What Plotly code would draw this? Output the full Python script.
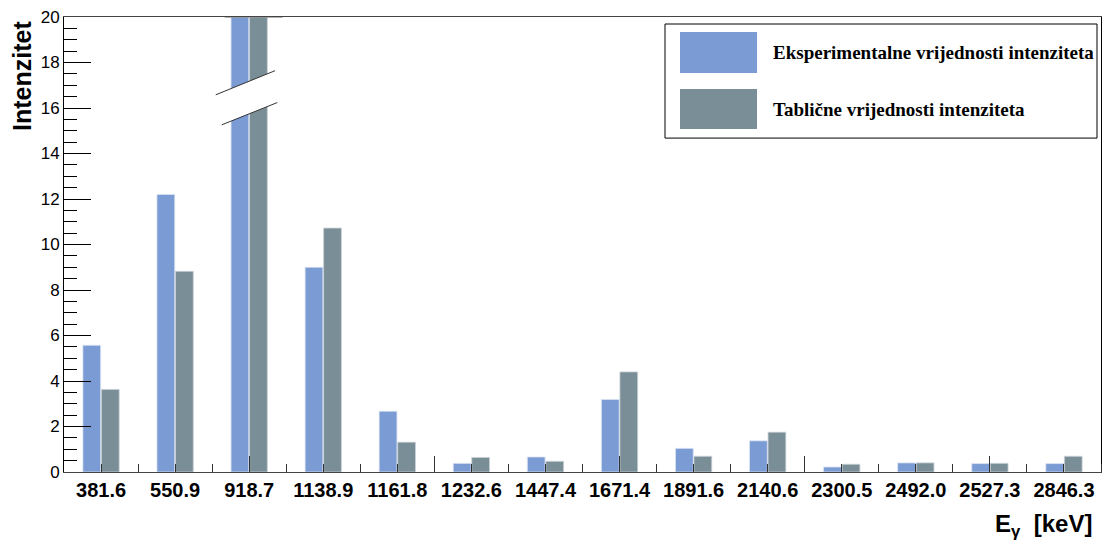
import plotly.graph_objects as go

categories = ["381.6", "550.9", "918.7", "1138.9", "1161.8", "1232.6", "1447.4",
              "1671.4", "1891.6", "2140.6", "2300.5", "2492.0", "2527.3", "2846.3"]
exp_values = [5.57, 12.2, 26.0, 9.0, 2.67, 0.38, 0.66, 3.19, 1.04, 1.37, 0.22, 0.40, 0.37, 0.37]
tab_values = [3.63, 8.82, 25.8, 10.72, 1.31, 0.64, 0.47, 4.40, 0.69, 1.75, 0.34, 0.40, 0.38, 0.69]
series_names = ["Eksperimentalne vrijednosti intenziteta", "Tablične vrijednosti intenziteta"]
colors = ["#7b9bd4", "#7a8e98"]

x_idx = list(range(len(categories)))

W, H = 1104, 543
L, R, T, B = 64, 1101, 17, 471.7
pw, ph = R - L, B - T

def px(x):
    return (x - L) / pw

def py(y):
    return (B - y) / ph

fig = go.Figure()
fig.add_trace(go.Bar(x=x_idx, y=exp_values, name=series_names[0],
                     marker=dict(color=colors[0], line=dict(color="#dbe3f3", width=0.8)),
                     showlegend=False))
fig.add_trace(go.Bar(x=x_idx, y=tab_values, name=series_names[1],
                     marker=dict(color=colors[1], line=dict(color="#c9d2d6", width=0.8)),
                     showlegend=False))

shapes = []
# axis break on the 918.7 bars
bi = categories.index("918.7")
shapes.append(dict(type="path", xref="x", yref="y",
                   path=f"M {bi-0.451},16.58 L {bi+0.349},17.64 L {bi+0.38},16.24 L {bi-0.37},15.26 Z",
                   fillcolor="white", line=dict(width=0)))
shapes.append(dict(type="line", xref="x", yref="y", x0=bi-0.451, y0=16.58, x1=bi+0.349, y1=17.64,
                   line=dict(color="#333", width=1)))
shapes.append(dict(type="line", xref="x", yref="y", x0=bi-0.37, y0=15.26, x1=bi+0.38, y1=16.24,
                   line=dict(color="#333", width=1)))
shapes.append(dict(type="line", xref="x", yref="y", x0=bi-0.33, y0=20, x1=bi+0.45, y1=20,
                   line=dict(color="#999", width=1.5)))

# legend box
shapes.append(dict(type="rect", xref="paper", yref="paper",
                   x0=px(665), x1=px(1097), y0=py(138), y1=py(24),
                   line=dict(color="black", width=1), fillcolor="white"))
shapes.append(dict(type="rect", xref="paper", yref="paper",
                   x0=px(680), x1=px(757), y0=py(73), y1=py(32),
                   line=dict(width=0), fillcolor=colors[0]))
shapes.append(dict(type="rect", xref="paper", yref="paper",
                   x0=px(680), x1=px(757), y0=py(129), y1=py(89),
                   line=dict(width=0), fillcolor=colors[1]))

annotations = [
    dict(text=series_names[0], xref="paper", yref="paper", x=px(771), y=py(52),
         xanchor="left", yanchor="middle", showarrow=False,
         font=dict(family="Liberation Serif", size=19, color="black", weight="bold")),
    dict(text=series_names[1], xref="paper", yref="paper", x=px(771), y=py(109),
         xanchor="left", yanchor="middle", showarrow=False,
         font=dict(family="Liberation Serif", size=19, color="black", weight="bold")),
    dict(text="Intenzitet", xref="paper", yref="paper", x=px(22), y=py(19),
         xanchor="center", yanchor="top", textangle=-90, showarrow=False,
         font=dict(family="Liberation Sans", size=25, color="black", weight="bold")),
    dict(text="E<sub>γ</sub>  [keV]", xref="paper", yref="paper", x=px(1094), y=py(525),
         xanchor="right", yanchor="middle", showarrow=False,
         font=dict(family="Liberation Sans", size=24, color="black", weight="bold")),
]

fig.update_layout(
    width=W, height=H,
    margin=dict(l=L, r=W - R, t=T, b=H - B),
    paper_bgcolor="white", plot_bgcolor="white",
    barmode="group", bargap=0.5, bargroupgap=0.04,
    shapes=shapes, annotations=annotations,
    font=dict(family="Liberation Sans", color="black"),
)

major_x = [2 + 2.5 * k for k in range(5)]
minor_x = [i * 0.5 for i in range(0, 28) if (i * 0.5) not in major_x]

fig.update_xaxes(
    range=[-0.5, len(categories) - 0.5],
    tickmode="array", tickvals=x_idx, ticktext=categories,
    ticks="", showgrid=False, zeroline=False,
    showline=True, linecolor="#444", linewidth=1, mirror=True,
    tickfont=dict(family="Liberation Sans", size=20, color="black", weight="bold"),
    minor=dict(tickmode="array", tickvals=minor_x, ticks="inside", ticklen=8,
               tickcolor="#333", tickwidth=1, showgrid=False),
)
fig.update_layout(xaxis2=dict(overlaying="x", range=[-0.5, len(categories) - 0.5],
                              tickmode="array", tickvals=major_x, ticks="inside", ticklen=16,
                              tickcolor="#333", showticklabels=False, showgrid=False,
                              zeroline=False, side="bottom", anchor="y"))
fig.add_trace(go.Scatter(x=[None], y=[None], xaxis="x2", showlegend=False, hoverinfo="skip"))

fig.update_yaxes(
    range=[0, 20], tickmode="linear", tick0=0, dtick=2,
    ticks="inside", ticklen=27, tickcolor="black", tickwidth=1,
    showgrid=False, zeroline=False,
    showline=True, linecolor="black", linewidth=1, mirror=True,
    tickfont=dict(family="Liberation Sans", size=17, color="black"),
    minor=dict(dtick=0.5, tick0=0, ticks="inside", ticklen=13, tickcolor="black", showgrid=False),
)

fig.write_html("out.html", config={"displayModeBar": False},
               post_script="document.body.style.margin='0';document.body.style.overflow='hidden';")
